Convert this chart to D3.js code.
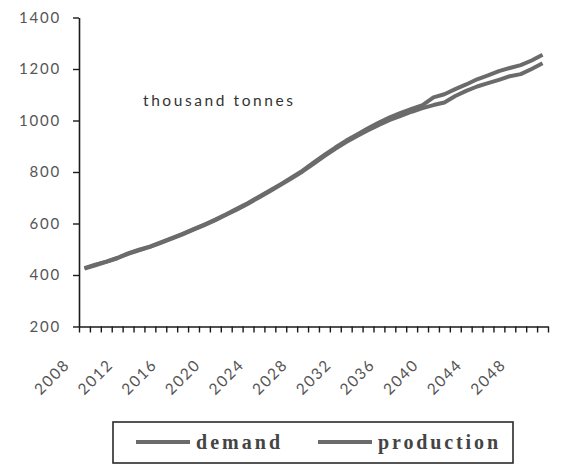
<!DOCTYPE html>
<html>
<head>
<meta charset="utf-8">
<script src="https://cdn.jsdelivr.net/npm/d3@7"></script>
<style>
  html, body { margin: 0; padding: 0; background: #fff; }
  svg { display: block; }
</style>
</head>
<body>
<svg id="chart" width="561" height="465"></svg>
<script>
// Years on the category axis
const years = d3.range(2008, 2051);

// Thousand tonnes per year
const demand = [
  427, 440, 452, 466, 484, 498, 510, 527, 543, 560,
  578, 596, 615, 636, 658, 680, 704, 728, 753, 779,
  805, 836, 866, 895, 922, 946, 970, 992, 1012, 1030,
  1045, 1060, 1090, 1102, 1122, 1140, 1160, 1175, 1192, 1204,
  1215, 1233, 1255
];
const production = [
  425, 438, 451, 465, 482, 496, 509, 525, 541, 558,
  576, 594, 613, 634, 655, 677, 701, 725, 750, 776,
  802, 832, 862, 890, 916, 940, 962, 983, 1002, 1018,
  1034, 1048, 1060, 1070, 1095, 1115, 1132, 1145, 1158, 1172,
  1180, 1200, 1222
];

const yTicks = [200, 400, 600, 800, 1000, 1200, 1400];
const xLabelYears = d3.range(2008, 2049, 4);
const seriesNames = ["demand", "production"];
const unitLabel = "thousand tonnes";

const svg = d3.select("#chart");

const plot = { left: 79, right: 548, top: 17.5, bottom: 326.5 };

const x = d3.scaleBand().domain(years).range([plot.left, plot.right]).padding(0);
const xEdge = d3.scaleLinear().domain([0, years.length]).range([plot.left, plot.right]);
const y = d3.scaleLinear().domain([200, 1400]).range([plot.bottom, plot.top]);
const cx = yr => x(yr) + x.bandwidth() / 2;

const tickFont = "Lato, 'Open Sans', sans-serif";

// Y axis
const yAxis = svg.append("g")
  .attr("transform", `translate(${plot.left},0)`)
  .call(d3.axisLeft(y).tickValues(yTicks).tickFormat(d3.format("d"))
    .tickSize(6).tickSizeOuter(0).tickPadding(12));
yAxis.select(".domain").attr("stroke", "#1a1a1a").attr("stroke-width", 1.6);
yAxis.selectAll(".tick line").attr("stroke", "#1a1a1a").attr("stroke-width", 1.4);
yAxis.selectAll(".tick text")
  .attr("font-family", tickFont).attr("font-size", 15)
  .attr("letter-spacing", 1.8).attr("fill", "#555");

// X axis: tick marks on category boundaries
const xTickAxis = svg.append("g")
  .attr("transform", `translate(0,${plot.bottom})`)
  .call(d3.axisBottom(xEdge).tickValues(d3.range(0, years.length + 1))
    .tickSize(6).tickSizeOuter(0).tickFormat(""));
xTickAxis.select(".domain").attr("stroke", "#1a1a1a").attr("stroke-width", 1.6);
xTickAxis.selectAll(".tick line").attr("stroke", "#1a1a1a").attr("stroke-width", 1.4);

// X axis labels, rotated
const xLabelAxis = svg.append("g")
  .attr("transform", `translate(0,${plot.bottom})`)
  .call(d3.axisBottom(x).tickValues(xLabelYears).tickSize(0).tickFormat(d3.format("d")));
xLabelAxis.select(".domain").remove();
xLabelAxis.selectAll(".tick text")
  .attr("font-family", tickFont).attr("font-size", 15.5)
  .attr("letter-spacing", 1.6).attr("fill", "#555")
  .attr("text-anchor", "end")
  .attr("dy", null).attr("y", null)
  .attr("dominant-baseline", "central")
  .attr("transform", "translate(-18,35) rotate(-45)");

// Series lines
const line = d3.line().x((d, i) => cx(years[i])).y(d => y(d));
[demand, production].forEach(vals => {
  svg.append("path")
    .datum(vals)
    .attr("fill", "none")
    .attr("stroke", "#6b6b6b")
    .attr("stroke-width", 4)
    .attr("stroke-linejoin", "round")
    .attr("d", line);
});

// Unit label
svg.append("text")
  .attr("x", 143).attr("y", 100)
  .attr("dominant-baseline", "central")
  .attr("font-family", tickFont).attr("font-size", 15.5)
  .attr("fill", "#333")
  .attr("textLength", 150).attr("lengthAdjust", "spacing")
  .text(unitLabel);

// Legend
const legend = svg.append("g");
legend.append("rect")
  .attr("x", 113).attr("y", 422).attr("width", 400).attr("height", 41)
  .attr("fill", "#fff").attr("stroke", "#2a2a2a").attr("stroke-width", 1.6);

const legendItems = [
  { name: seriesNames[0], x0: 136, x1: 190, tx: 196, tw: 84 },
  { name: seriesNames[1], x0: 318, x1: 372, tx: 378, tw: 120 }
];
legendItems.forEach(it => {
  legend.append("line")
    .attr("x1", it.x0).attr("x2", it.x1).attr("y1", 442).attr("y2", 442)
    .attr("stroke", "#6b6b6b").attr("stroke-width", 4);
  legend.append("text")
    .attr("x", it.tx).attr("y", 442)
    .attr("dominant-baseline", "central")
    .attr("font-family", "'Liberation Serif', 'DejaVu Serif', serif")
    .attr("font-size", 20).attr("font-weight", "bold")
    .attr("fill", "#444")
    .attr("textLength", it.tw).attr("lengthAdjust", "spacing")
    .text(it.name);
});
</script>
</body>
</html>
